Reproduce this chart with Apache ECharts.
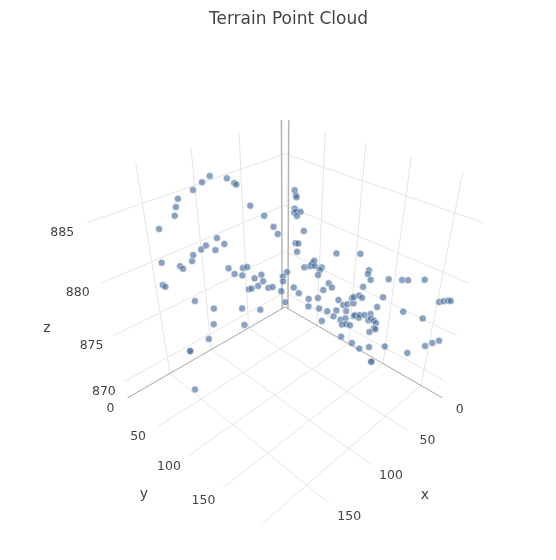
<!DOCTYPE html>
<html><head><meta charset="utf-8"><style>html,body{margin:0;background:#fff}#c{width:556px;height:560px}</style>
<script src="https://cdn.jsdelivr.net/npm/echarts@6/dist/echarts.min.js"></script></head><body><div id="c"></div><script>
const titleText = 'Terrain Point Cloud';
const xVals = [145,148,151,135,129,118,112,114,110,109,106,160,92,91,93,90,92,90,87,85,
83,85,81,85,84,87,68,56,87,83,81,82,81,80,74,75,79,95,96,95,
49,51,159,152,148,146,145,141,137,131,126,132,164,164,125,123,119,118,116,112,
108,108,111,116,114,105,103,97,92,87,96,147,137,121,111,138,121,143,155,155,
153,83,78,84,78,74,68,69,76,64,72,70,75,63,60,62,58,58,57,55,
52,52,48,39,41,45,64,62,65,62,60,57,57,55,53,50,48,50,48,46,
44,46,45,48,28,17,66,60,55,50,40,26,48,48,16,13,9,31,28,20,
10,8,6,5];
const yVals = [43,44,46,49,53,47,61,73,70,85,98,36,92,96,118,116,119,115,111,111,
114,112,116,111,113,115,141,156,124,126,126,128,129,129,131,130,132,112,108,107,
161,162,30,46,43,55,56,62,63,70,72,68,36,40,74,79,84,84,87,91,
95,97,94,88,89,100,103,107,117,118,111,54,66,84,96,65,86,63,50,50,
46,126,132,127,134,140,145,143,136,143,138,140,135,148,150,151,155,153,154,158,
159,159,163,175,173,171,147,151,150,152,155,156,157,160,159,162,167,167,168,170,
171,171,172,168,187,201,151,159,164,171,181,197,174,174,208,213,217,183,187,198,
210,213,216,218];
const zVals = [886.5,886.0,885.5,887.0,887.5,887.5,887.5,887.5,887.2,886.0,885.5,884.5,884.0,
883.5,887.5,887.0,887.0,886.0,885.5,885.5,885.5,885.2,884.0,883.0,883.0,882.5,
882.5,882.5,881.5,881.5,881.5,881.8,882.0,881.5,881.2,881.0,880.8,881.0,880.5,
880.0,881.0,880.8,881.5,881.5,881.0,882.0,882.5,883.0,883.2,883.8,883.2,882.8,
880.0,880.0,881.2,880.8,880.7,881.3,881.4,880.4,880.7,880.2,879.8,879.5,879.5,
879.6,879.7,879.2,879.7,879.0,878.3,878.5,877.8,877.8,877.7,876.3,876.3,875.0,
873.8,873.8,869.2,878.6,878.7,878.0,877.8,877.6,877.6,877.0,876.6,878.3,880.0,
879.6,879.4,878.0,878.0,877.5,878.2,878.6,878.7,878.9,878.6,879.6,880.2,880.3,
878.7,877.9,876.6,876.8,876.3,876.3,876.2,877.0,877.1,876.9,877.0,877.0,877.2,
876.7,876.8,876.6,876.3,875.9,875.8,875.5,877.3,876.7,875.2,874.6,874.0,874.2,
874.2,873.5,872.7,872.7,874.2,874.6,874.8,880.2,880.2,880.3,878.3,878.4,878.5,
878.5];
const xTicks = [0,50,100,150];
const yTicks = [0,50,100,150];
const zTicks = [870,875,880,885];
const xGrid = [50,100,150];
const yGrid = [50,100,150,200];

// normalised cube coordinates of the scene box
const A = x => -1 + (x + 4.5) * 0.00997;
const B = y => -1 + (y + 5.4) * 0.008635;
const C = z => -1 + (z - 868.1) * 0.1029;
const TOP = 1.056;
// perspective camera on the cube diagonal
function proj(a, b, c) {
  const d = 7.5 - a - b - c;
  return [285 + 669 * (b - a) / d, 307 - 386 * (2 * c - a - b) / d];
}
const P = (x, y, z) => proj(A(x), B(y), C(z));
function segs(list) { const o = []; list.forEach(s => { o.push(s[0], s[1], '-'); }); return o; }

const light = [];
xGrid.forEach(x => {
  light.push([proj(A(x), -1, -1), proj(A(x), -1, TOP)]);   // left wall
  light.push([proj(A(x), -1, -1), proj(A(x), 1, -1)]);     // floor
});
yGrid.forEach(y => {
  light.push([proj(-1, B(y), -1), proj(-1, B(y), TOP)]);   // right wall
  light.push([proj(-1, B(y), -1), proj(1, B(y), -1)]);     // floor
});
zTicks.forEach(z => {
  light.push([proj(-1, -1, C(z)), proj(1, -1, C(z))]);
  light.push([proj(-1, -1, C(z)), proj(-1, 1, C(z))]);
});
const zero = [
  [proj(A(0), -1, -1), proj(A(0), -1, TOP)],
  [proj(-1, B(0), -1), proj(-1, B(0), TOP)]
];
const axisLn = [
  [proj(-1, -1, -1), proj(1, -1, -1)],
  [proj(-1, -1, -1), proj(-1, 1, -1)]
];
const line = (data, color, width) => ({ type: 'line', data: segs(data), showSymbol: false, silent: true, animation: false,
  connectNulls: false, lineStyle: { color, width }, z: 1 });

const labels = [];
xTicks.forEach(x => { const p = proj(A(x), 1, -1); labels.push({ t: String(x), x: p[0] + 20, y: p[1] + 9 + x / 150 * 4, s: 12.5 }); });
yTicks.forEach(y => { const p = proj(1, B(y), -1); labels.push({ t: String(y), x: p[0] - 20, y: p[1] + 8.5 + y / 150 * 5.5, s: 12.5 }); });
zTicks.forEach(z => { const p = proj(1, -1, C(z)); labels.push({ t: String(z), x: p[0] - 20 - (z - 870) * 0.33, y: p[1] + 10, s: 12.5 }); });
labels.push({ t: 'x', x: 425, y: 495, s: 14 }, { t: 'y', x: 144, y: 494, s: 14 }, { t: 'z', x: 47, y: 328, s: 14 });

const pts = xVals.map((x, i) => P(x, yVals[i], zVals[i]));

const chart = echarts.init(document.getElementById('c'), null, { renderer: 'canvas', width: 556, height: 560 });
chart.setOption({
  animation: false,
  backgroundColor: '#fff',
  title: { text: titleText, left: 283.5, top: 6, textAlign: 'center',
    textStyle: { fontFamily: 'DejaVu Sans', fontSize: 17, fontWeight: 'normal', color: '#444' } },
  grid: { left: 0, right: 0, top: 0, bottom: 0 },
  xAxis: { type: 'value', min: 0, max: 556, show: false },
  yAxis: { type: 'value', min: 0, max: 560, inverse: true, show: false },
  series: [
    line(light, '#e6e6e6', 1),
    line(zero, '#b4b4b4', 1.5),
    line(axisLn, '#a6a6a6', 1),
    { type: 'custom', silent: true, z: 2, data: labels.map((l, i) => [l.x, l.y, i]),
      renderItem: (p, api) => {
        const l = labels[api.value(2)], c = api.coord([l.x, l.y]);
        return { type: 'text', x: c[0], y: c[1], style: { text: l.t, fill: '#444', align: 'center', verticalAlign: 'middle',
          font: l.s + 'px "DejaVu Sans"' } };
      } },
    { type: 'scatter', name: 'points', data: pts, symbolSize: 7, z: 3, silent: true,
      itemStyle: { color: 'rgba(72,110,155,0.8)', borderColor: 'rgba(255,255,255,0.6)', borderWidth: 1 } }
  ]
});
</script></body></html>
